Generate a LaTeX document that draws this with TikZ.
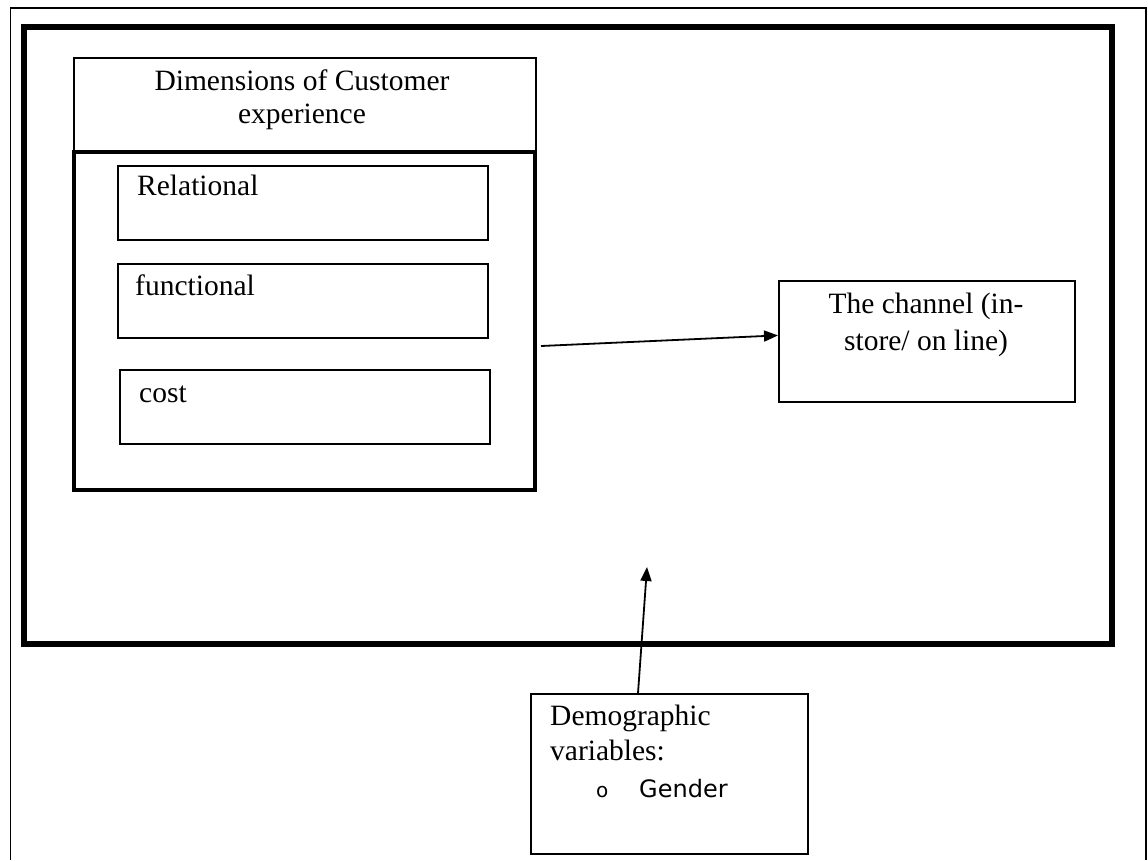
\documentclass[tikz,border=0pt]{standalone}
\usepackage{fontspec}
\setmainfont{Liberation Serif}
\newfontfamily\gsans{DejaVu Sans}
\usetikzlibrary{arrows.meta,calc}
\begin{document}
\begin{tikzpicture}[x=1pt,y=-1pt,
  box/.style={draw,rectangle,inner sep=0pt,anchor=north west,line width=1.8pt},
  lbl/.style={anchor=base west,inner sep=0pt,font=\fontsize{29.5}{34}\selectfont},
  clbl/.style={anchor=base,inner sep=0pt,font=\fontsize{29.5}{34}\selectfont},
  conn/.style={line width=1.8pt,-{Triangle[length=14pt,width=11pt]}}]
\useasboundingbox (0,0) rectangle (1148,860);
% outer thin border (open at the bottom)
\draw[line width=1.5pt] (10.5,860) -- (10.5,8) -- (1146,8) -- (1146,860);
% thick frame
\node[box,line width=5.5pt,minimum width=1088pt,minimum height=617pt] (frame) at (21,24) {};
% header box
\node[box,minimum width=462pt,minimum height=93pt] (head) at (73,57) {};
\node[clbl] (h1) at (302,90) {Dimensions of Customer};
\node[clbl] (h2) at (302,123) {experience};
% inner thick box
\node[box,line width=3.5pt,minimum width=461pt,minimum height=338pt] (inner) at (72,150) {};
% dimension boxes
\node[box,minimum width=370pt,minimum height=74pt] (rel) at (117,165) {};
\node[lbl] (relt) at (137,195) {Relational};
\node[box,minimum width=370pt,minimum height=74pt] (fun) at (117,263) {};
\node[lbl] (funt) at (135,295) {functional};
\node[box,minimum width=370pt,minimum height=74pt] (cost) at (119,369) {};
\node[lbl] (costt) at (139,402) {cost};
% channel
\node[box,minimum width=296pt,minimum height=121pt] (chan) at (778,280) {};
\node[clbl] (c1) at (926,313) {The channel (in-};
\node[clbl] (c2) at (926,350) {store/ on line)};
% demographic
\node[box,minimum width=277pt,minimum height=160pt] (demo) at (530,693) {};
\node[lbl] (d1) at (550,725) {Demographic};
\node[lbl] (d2) at (550,760) {variables:};
\node[lbl,font=\gsans\fontsize{20}{24}\selectfont] (bul) at (596,797) {o};
\node[lbl,font=\gsans\fontsize{24}{28}\selectfont] (gen) at (639,797) {Gender};
% connectors
\coordinate (a1s) at (541,346);
\draw[conn] (a1s) -- ($(chan.west)+(0,-6)$);
\coordinate (a2e) at (647,567);
\draw[conn] ($(demo.north west)+(108,0)$) -- (a2e);
\end{tikzpicture}
\end{document}
